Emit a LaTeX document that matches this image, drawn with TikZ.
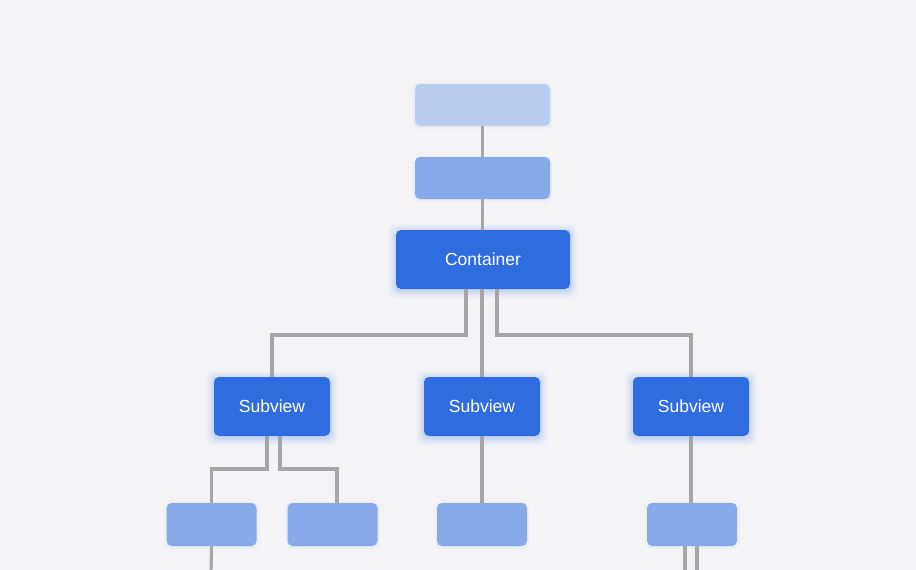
\documentclass[tikz,border=0pt]{standalone}
\usepackage{fontspec}
\setmainfont{Liberation Sans}
\usetikzlibrary{backgrounds}
\definecolor{bgc}{HTML}{F4F4F7}
\definecolor{pale}{HTML}{B9CDEF}
\definecolor{midb}{HTML}{87A9E9}
\definecolor{deep}{HTML}{2E6CDF}
\definecolor{glowc}{HTML}{5B8FEF}
\definecolor{wire}{HTML}{A6A6A9}
\tikzset{
  box/.style={rounded corners=5pt, inner sep=0pt, outer sep=0pt, draw=none},
  palebox/.style={box, fill=pale, minimum width=135pt, minimum height=42pt},
  midbox/.style={box, fill=midb, minimum width=135pt, minimum height=42pt},
  leafbox/.style={box, fill=midb, minimum width=90pt, minimum height=43pt},
  mainbox/.style={box, fill=deep, text=white, font=\fontsize{17.5pt}{20pt}\selectfont},
  conn/.style={draw=wire, line width=3.2pt},
}
\newcommand{\glowit}[1]{%
  \foreach \s/\o in {8/0.04,6/0.06,4/0.08,2/0.12}{%
    \fill[glowc, opacity=\o, rounded corners=7pt]
      ([shift={(-\s,-\s+1.5)}]#1.north west) rectangle ([shift={(\s,\s+1.5)}]#1.south east);}}
\begin{document}
\begin{tikzpicture}[x=1pt, y=-1pt]
\useasboundingbox (0,0) rectangle (916,570);
% nodes
\node[palebox] (top) at (482.5,105) {};
\node[midbox] (mid) at (482.5,178) {};
\node[mainbox, minimum width=174pt, minimum height=59pt] (cont) at (483,259.5) {Container};
\node[mainbox, minimum width=116pt, minimum height=59pt] (s1) at (272,406.5) {Subview};
\node[mainbox, minimum width=116pt, minimum height=59pt] (s2) at (482,406.5) {Subview};
\node[mainbox, minimum width=116pt, minimum height=59pt] (s3) at (691,406.5) {Subview};
\node[leafbox] (a) at (211.5,524.5) {};
\node[leafbox] (b) at (332.5,524.5) {};
\node[leafbox] (c) at (482,524.5) {};
\node[leafbox] (d) at (692,524.5) {};
\coordinate (aend) at (211,575);
\coordinate (dend1) at (685,575);
\coordinate (dend2) at (697,575);
\begin{scope}[on background layer]
  \fill[bgc] (0,0) rectangle (916,570);
  \glowit{cont}\glowit{s1}\glowit{s2}\glowit{s3}
  \foreach \n in {top,mid,a,b,c,d}{%
    \fill[glowc, opacity=0.05, rounded corners=6pt]
      ([shift={(-2,-1)}]\n.north west) rectangle ([shift={(2,3)}]\n.south east);}
  % connectors
  \draw[conn] (top.south) -- (mid.north);
  \draw[conn] (mid.south) -- (mid.south |- cont.north);
  \draw[conn] ([xshift=-17pt]cont.south) -- ++(0,46) -| (s1.north);
  \draw[conn] (cont.south -| s2.north) -- (s2.north);
  \draw[conn] ([xshift=14pt]cont.south) -- ++(0,46) -| (s3.north);
  \draw[conn] ([xshift=-5pt]s1.south) -- ++(0,33) -| (a.north);
  \draw[conn] ([xshift=8pt]s1.south) -- ++(0,33) -| ([xshift=4.5pt]b.north);
  \draw[conn] (s2.south) -- (c.north);
  \draw[conn] (s3.south) -- (s3.south |- d.north);
  \draw[conn] (a.south) -- (aend);
  \draw[conn] (a.south -| dend1) -- (dend1);
  \draw[conn] (a.south -| dend2) -- (dend2);
\end{scope}
\end{tikzpicture}
\end{document}
